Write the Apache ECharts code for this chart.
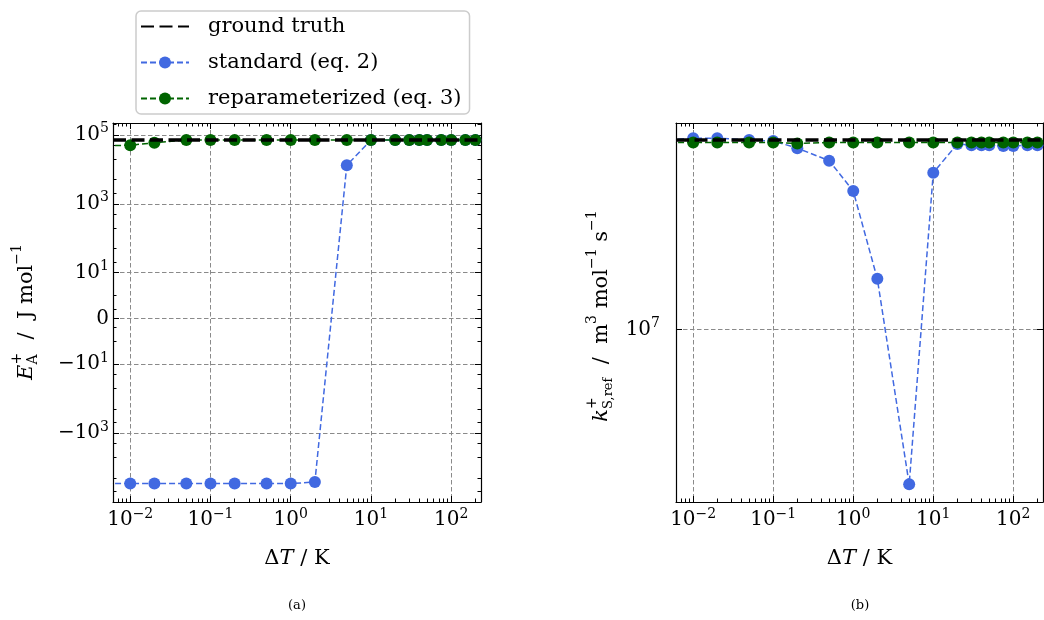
<!DOCTYPE html>
<html>
<head>
<meta charset="utf-8">
<script src="https://cdn.jsdelivr.net/npm/echarts@6/dist/echarts.min.js"></script>
<style>
  html, body { margin: 0; padding: 0; background: #ffffff; }
  #chart { width: 1044px; height: 620px; }
</style>
</head>
<body>
<div id="chart"></div>
<script>
// Temperature steps ΔT (K) used for both fits
const deltaT = [0.005, 0.01, 0.02, 0.05, 0.1, 0.2, 0.5, 1, 2, 5, 10, 20, 30, 40, 50, 75, 100, 150, 200];

// (a) activation energy E_A^+ in J/mol
const eaStandard = [-29200, -29200, -29200, -29200, -29200, -29200, -29200, -29200, -26300, 13100,
                    70500, 70500, 70500, 70500, 70500, 70500, 70500, 70500, 70500];
const eaReparam  = [48000, 49900, 58600, 71000, 71000, 71000, 71000, 71000, 71000, 71000,
                    71000, 71000, 71000, 71000, 71000, 71000, 71000, 71000, 71000];
const eaTruth = 70000;

// (b) rate constant at the reference temperature, m^3 mol^-1 s^-1
const kStandard = [3.00e7, 3.03e7, 3.03e7, 3.00e7, 2.98e7, 2.86e7, 2.66e7, 2.23e7, 1.34e7, 4.07e6,
                   2.48e7, 2.93e7, 2.91e7, 2.91e7, 2.91e7, 2.895e7, 2.895e7, 2.91e7, 2.91e7];
const kReparam  = [2.955e7, 2.955e7, 2.955e7, 2.955e7, 2.955e7, 2.94e7, 2.955e7, 2.955e7, 2.955e7, 2.955e7,
                   2.955e7, 2.955e7, 2.955e7, 2.955e7, 2.955e7, 2.955e7, 2.955e7, 2.955e7, 2.955e7];
const kTruth = 3.0e7;

// Tick values
const xMajorTicks = [0.01, 0.1, 1, 10, 100];
const eaMajorTicks = [1e5, 1e3, 10, 0, -10, -1e3];
const kMajorTicks = [1e7];

// Axis limits
const X_MIN = 0.0061, X_MAX = 235;
const EA_MIN = -1.0e5, EA_MAX = 2.2e5;
const K_MIN = 3.673e6, K_MAX = 3.309e7;

const SERIF = "'DejaVu Serif', serif";
const BLUE = '#4169E1';
const GREEN = '#006400';

// Symmetric log transform (linear inside ±10)
const LINTHRESH = 10, LINSPAN = 1.325;
function symlog(v) {
  const a = Math.abs(v);
  if (a <= LINTHRESH) return LINSPAN * v / LINTHRESH;
  return Math.sign(v) * (LINSPAN + Math.log10(a / LINTHRESH));
}

// Minor tick values
const xMinorTicks = [];
for (let k = -3; k <= 2; k++) for (let m = 2; m <= 9; m++) {
  const v = m * Math.pow(10, k);
  if (v > X_MIN && v < X_MAX) xMinorTicks.push(v);
}
const eaMinorTicks = [];
[2, 5].forEach(m => {
  eaMinorTicks.push(m, -m);
  for (let k = 1; k <= 5; k++) eaMinorTicks.push(m * Math.pow(10, k), -m * Math.pow(10, k));
});
const eaMinorT = eaMinorTicks.map(symlog).filter(t => t > symlog(EA_MIN) && t < symlog(EA_MAX));

const tickRich = {
  b: { fontFamily: SERIF, fontSize: 20, color: '#000' },
  s: { fontFamily: SERIF, fontSize: 14, color: '#000', padding: [0, 0, 12, 0] }
};
function expText(k) { return k < 0 ? '\u2212' + (-k) : String(k); }
function powLabel(v) {
  const k = Math.round(Math.log10(v));
  return '{b|10}{s|' + expText(k) + '}';
}
function symLabel(t) {
  let best = null;
  eaMajorTicks.forEach(v => { if (Math.abs(symlog(v) - t) < 1e-6) best = v; });
  if (best === null) return '';
  if (best === 0) return '{b|0}';
  const k = Math.round(Math.log10(Math.abs(best)));
  return '{b|' + (best < 0 ? '\u221210' : '10') + '}{s|' + expText(k) + '}';
}

const spine = { color: '#000', width: 1.2 };
const tickLine = { color: '#000', width: 1 };
const gridLine = { color: '#8a8a8a', width: 1, type: [4.5, 2.5] };
const gtLine = { color: '#000', width: 3.5, type: [13, 5.5] };

function xAxes(grid) {
  const c = { type: 'log', logBase: 10, gridIndex: grid, min: X_MIN, max: X_MAX,
              minorTick: { show: false }, minorSplitLine: { show: false } };
  return [
    Object.assign({}, c, {
      position: 'bottom',
      axisLine: { show: true, onZero: false, lineStyle: spine },
      axisTick: { show: true, inside: true, length: 6, lineStyle: tickLine, customValues: xMajorTicks },
      axisLabel: { show: true, margin: 5, customValues: xMajorTicks, formatter: powLabel, rich: tickRich },
      splitLine: { show: true, lineStyle: gridLine },
      name: '{n|\u0394}{i|T}{n| / K}', nameLocation: 'middle', nameGap: 46,
      nameTextStyle: { rich: {
        n: { fontFamily: SERIF, fontSize: 21, color: '#000' },
        i: { fontFamily: SERIF, fontSize: 21, fontStyle: 'italic', color: '#000' } } }
    }),
    Object.assign({}, c, {
      position: 'bottom',
      axisLine: { show: false, onZero: false },
      axisTick: { show: true, inside: true, length: 3.5, lineStyle: tickLine, customValues: xMinorTicks },
      axisLabel: { show: false }, splitLine: { show: false }
    }),
    Object.assign({}, c, {
      position: 'top',
      axisLine: { show: true, onZero: false, lineStyle: spine },
      axisTick: { show: true, inside: true, length: 6, lineStyle: tickLine, customValues: xMajorTicks },
      axisLabel: { show: false }, splitLine: { show: false }
    }),
    Object.assign({}, c, {
      position: 'top',
      axisLine: { show: false, onZero: false },
      axisTick: { show: true, inside: true, length: 3.5, lineStyle: tickLine, customValues: xMinorTicks },
      axisLabel: { show: false }, splitLine: { show: false }
    })
  ];
}

const eaMajorT = eaMajorTicks.map(symlog);
const symCommon = { type: 'value', gridIndex: 0, min: symlog(EA_MIN), max: symlog(EA_MAX),
                    minorTick: { show: false }, minorSplitLine: { show: false } };
const yAxesA = [
  Object.assign({}, symCommon, {
    position: 'left',
    axisLine: { show: true, onZero: false, lineStyle: spine },
    axisTick: { show: true, inside: true, length: 6, lineStyle: tickLine, customValues: eaMajorT },
    axisLabel: { show: true, margin: 4, customValues: eaMajorT, formatter: symLabel, rich: tickRich },
    splitLine: { show: true, lineStyle: gridLine }
  }),
  Object.assign({}, symCommon, {
    position: 'left',
    axisLine: { show: false, onZero: false },
    axisTick: { show: true, inside: true, length: 3.5, lineStyle: tickLine, customValues: eaMinorT },
    axisLabel: { show: false }, splitLine: { show: false }
  }),
  Object.assign({}, symCommon, {
    position: 'right',
    axisLine: { show: true, onZero: false, lineStyle: spine },
    axisTick: { show: true, inside: true, length: 6, lineStyle: tickLine, customValues: eaMajorT },
    axisLabel: { show: false }, splitLine: { show: false }
  }),
  Object.assign({}, symCommon, {
    position: 'right',
    axisLine: { show: false, onZero: false },
    axisTick: { show: true, inside: true, length: 3.5, lineStyle: tickLine, customValues: eaMinorT },
    axisLabel: { show: false }, splitLine: { show: false }
  })
];

const logCommon = { type: 'log', logBase: 10, gridIndex: 1, min: K_MIN, max: K_MAX,
                    minorTick: { show: false }, minorSplitLine: { show: false } };
const yAxesB = [
  Object.assign({}, logCommon, {
    position: 'left',
    axisLine: { show: true, onZero: false, lineStyle: spine },
    axisTick: { show: true, inside: true, length: 6, lineStyle: tickLine, customValues: kMajorTicks },
    axisLabel: { show: true, margin: 16, customValues: kMajorTicks, formatter: powLabel, rich: tickRich },
    splitLine: { show: true, lineStyle: gridLine }
  }),
  Object.assign({}, logCommon, {
    position: 'right',
    axisLine: { show: true, onZero: false, lineStyle: spine },
    axisTick: { show: true, inside: true, length: 6, lineStyle: tickLine, customValues: kMajorTicks },
    axisLabel: { show: false }, splitLine: { show: false }
  })
];

function fitSeries(name, color, xIdx, yIdx, values, transform, z) {
  return {
    type: 'line', name, xAxisIndex: xIdx, yAxisIndex: yIdx, z,
    data: deltaT.map((x, i) => [x, transform(values[i])]),
    symbol: 'circle', symbolSize: 12, showSymbol: true, clip: true,
    itemStyle: { color },
    lineStyle: { color, width: 1.5, type: [6, 3] },
    emphasis: { disabled: true }, animation: false
  };
}
function truthSeries(xIdx, yIdx, value) {
  return {
    type: 'line', name: 'ground truth', xAxisIndex: xIdx, yAxisIndex: yIdx, z: 1,
    data: [], symbol: 'none', itemStyle: { color: '#000' }, lineStyle: gtLine,
    markLine: { silent: true, symbol: ['none', 'none'], label: { show: false },
                lineStyle: gtLine, animation: false, data: [{ yAxis: value }] },
    animation: false
  };
}
const ident = v => v;

// Rotated y-axis titles with stacked super/subscripts
const mctx = document.createElement('canvas').getContext('2d');
function fnt(size, italic) { return (italic ? 'italic ' : '') + size + 'px ' + SERIF; }
function tw(t, f) { mctx.font = f; return mctx.measureText(t).width; }
function rotatedTitle(pieces, cx, cy) {
  const children = [];
  let x = 0;
  pieces.forEach(p => {
    const stack = p.stack || [p];
    let w = 0;
    stack.forEach(q => {
      const f = fnt(q.size || 21, q.italic);
      children.push({ type: 'text', x: x, y: q.dy || 0,
        style: { text: q.t, font: f, fill: '#000', align: 'left', verticalAlign: 'middle' } });
      w = Math.max(w, tw(q.t, f));
    });
    x += w;
  });
  children.forEach(c => { c.x -= x / 2; });
  return { type: 'group', x: cx, y: cy, rotation: Math.PI / 2, children };
}
const titleA = rotatedTitle([
  { t: 'E', italic: true },
  { stack: [{ t: '+', size: 14, dy: -10 }, { t: 'A', size: 14, dy: 6 }] },
  { t: '  /  J mol' },
  { t: '\u22121', size: 14, dy: -10 }
], 27, 312);
const titleB = rotatedTitle([
  { t: 'k', italic: true },
  { stack: [{ t: '+', size: 14, dy: -10 }, { t: 'S,ref', size: 13, dy: 7 }] },
  { t: '  /  m' },
  { t: '3', size: 14, dy: -10 },
  { t: ' mol' },
  { t: '\u22121', size: 14, dy: -10 },
  { t: ' s' },
  { t: '\u22121', size: 14, dy: -10 }
], 602, 316);

const chart = echarts.init(document.getElementById('chart'), null, { renderer: 'canvas' });
chart.setOption({
  animation: false,
  backgroundColor: '#ffffff',
  textStyle: { fontFamily: SERIF },
  grid: [
    { left: 113, top: 123, width: 368, height: 379, containLabel: false, outerBoundsMode: 'none' },
    { left: 676, top: 123, width: 367, height: 379, containLabel: false, outerBoundsMode: 'none' }
  ],
  xAxis: xAxes(0).concat(xAxes(1)),
  yAxis: yAxesA.concat(yAxesB),
  legend: {
    show: true, orient: 'vertical', left: 136, top: 11,
    itemWidth: 48, itemHeight: 15, itemGap: 15,
    padding: [5, 8, 5, 4],
    backgroundColor: '#ffffff', borderColor: '#cccccc', borderWidth: 1.5, borderRadius: 5,
    textStyle: { fontFamily: SERIF, fontSize: 21, color: '#000', padding: [0, 0, 0, 14] },
    selectedMode: false,
    data: [
      { name: 'ground truth', itemStyle: { opacity: 0 } },
      'standard (eq. 2)',
      'reparameterized (eq. 3)'
    ]
  },
  series: [
    truthSeries(0, 0, symlog(eaTruth)),
    fitSeries('standard (eq. 2)', BLUE, 0, 0, eaStandard, symlog, 2),
    fitSeries('reparameterized (eq. 3)', GREEN, 0, 0, eaReparam, symlog, 3),
    truthSeries(4, 4, kTruth),
    fitSeries('standard (eq. 2)', BLUE, 4, 4, kStandard, ident, 2),
    fitSeries('reparameterized (eq. 3)', GREEN, 4, 4, kReparam, ident, 3)
  ],
  graphic: { elements: [
    titleA, titleB,
    { type: 'text', x: 297, y: 606, style: { text: '(a)', font: '13px ' + SERIF, fill: '#000', align: 'center', verticalAlign: 'middle' } },
    { type: 'text', x: 860, y: 606, style: { text: '(b)', font: '13px ' + SERIF, fill: '#000', align: 'center', verticalAlign: 'middle' } }
  ] }
});
</script>
</body>
</html>
